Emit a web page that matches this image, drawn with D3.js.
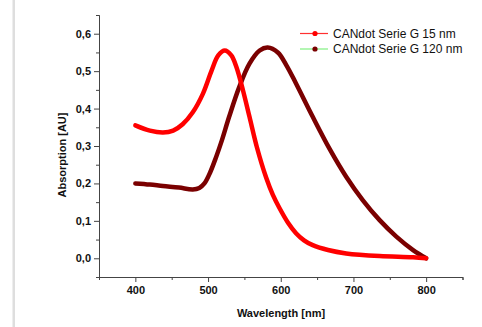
<!DOCTYPE html>
<html>
<head>
<meta charset="utf-8">
<script src="https://cdn.jsdelivr.net/npm/d3@7"></script>
<style>
  body { margin: 0; background: #fff; }
  text { font-family: Arial, "Liberation Sans", sans-serif; }
</style>
</head>
<body>
<svg id="chart"></svg>
<script>
// spectra
var wl15  = [400, 420, 438, 452, 465, 479, 493, 505, 514, 523, 532, 539, 548, 557, 567, 580, 589, 598, 610, 621, 632, 644, 665, 690, 736, 782, 800];
var abs15 = [0.355, 0.341, 0.336, 0.341, 0.358, 0.39, 0.44, 0.502, 0.542, 0.555, 0.542, 0.511, 0.449, 0.378, 0.298, 0.215, 0.17, 0.135, 0.095, 0.067, 0.048, 0.035, 0.022, 0.013, 0.006, 0.003, 0.0];

var wl120  = [400, 420, 438, 460, 479, 488, 495, 503, 511, 519, 529, 543, 557, 571, 582, 596, 608, 621, 644, 667, 690, 713, 736, 759, 782, 800];
var abs120 = [0.2, 0.197, 0.193, 0.189, 0.184, 0.188, 0.2, 0.23, 0.27, 0.315, 0.378, 0.458, 0.52, 0.555, 0.563, 0.55, 0.515, 0.467, 0.378, 0.293, 0.218, 0.155, 0.102, 0.058, 0.022, 0.0];

var seriesNames = ["CANdot Serie G 15 nm", "CANdot Serie G 120 nm"];
var xTicks = [400, 500, 600, 700, 800];
var yTicks = [0, 0.1, 0.2, 0.3, 0.4, 0.5, 0.6];

var screen = {width: 482, height: 327};
var svg = d3.select("#chart")
    .attr("width", screen.width)
    .attr("height", screen.height);

// light gray bar at the left edge
svg.append("rect")
    .attr("x", 12.5).attr("y", 0)
    .attr("width", 2.5).attr("height", screen.height)
    .attr("fill", "#dedede");

var xScale = d3.scaleLinear().domain([350, 850]).range([99, 462.5]);
var yScale = d3.scaleLinear().domain([-0.05, 0.65]).range([277, 15]);

var comma = function(d) { return d3.format(".1f")(d).replace(".", ","); };

// axes
var xAxis = d3.axisBottom(xScale).tickValues(xTicks).tickSize(5).tickSizeOuter(0).tickPadding(4);
var xMinor = d3.axisBottom(xScale).tickValues([350, 450, 550, 650, 750, 850]).tickSize(3).tickFormat("");
var yAxis = d3.axisLeft(yScale).tickValues(yTicks).tickSize(5).tickSizeOuter(0).tickPadding(3).tickFormat(comma);
var yMinor = d3.axisLeft(yScale).tickValues([0.05, 0.15, 0.25, 0.35, 0.45, 0.55, 0.65]).tickSize(3).tickFormat("");

svg.append("g").attr("transform", "translate(0," + yScale(-0.05) + ")").call(xAxis);
svg.append("g").attr("transform", "translate(0," + yScale(-0.05) + ")").call(xMinor);
svg.append("g").attr("transform", "translate(" + xScale(350) + ",0)").call(yAxis);
svg.append("g").attr("transform", "translate(" + xScale(350) + ",0)").call(yMinor);

svg.selectAll(".domain, .tick line").attr("stroke", "#444").attr("stroke-width", 1);
svg.selectAll(".tick text")
    .attr("font-size", 11)
    .attr("font-weight", "bold")
    .attr("fill", "#111");

// titles
svg.append("text")
    .text("Wavelength [nm]")
    .attr("x", 281).attr("y", 317)
    .attr("text-anchor", "middle")
    .attr("font-size", 11).attr("font-weight", "bold").attr("fill", "#111");

svg.append("g")
    .attr("transform", "translate(66,155)")
    .append("text")
    .text("Absorption [AU]")
    .attr("transform", "rotate(-90)")
    .attr("text-anchor", "middle")
    .attr("font-size", 11).attr("font-weight", "bold").attr("fill", "#111");

// curves
var lineGenerator = d3.line()
    .x(function(d) { return xScale(d[0]); })
    .y(function(d) { return yScale(d[1]); })
    .curve(d3.curveCatmullRom.alpha(0.5));

var curves = [
    {pts: d3.zip(wl120, abs120), color: "#7a0000"},
    {pts: d3.zip(wl15, abs15), color: "#ff0000"}
];

svg.append("g").selectAll("path")
    .data(curves)
    .enter()
    .append("path")
    .attr("d", function(c) { return lineGenerator(c.pts); })
    .attr("fill", "none")
    .attr("stroke", function(c) { return c.color; })
    .attr("stroke-width", 4.5)
    .attr("stroke-linecap", "round")
    .attr("stroke-linejoin", "round");

// legend
var legendItems = [
    {name: seriesNames[0], line: "#ff3030", dot: "#ff0000"},
    {name: seriesNames[1], line: "#80f080", dot: "#7a0000"}
];
var legend = svg.append("g").selectAll("g")
    .data(legendItems)
    .enter()
    .append("g")
    .attr("transform", function(d, i) { return "translate(300," + (33.5 + i * 15.5) + ")"; });

legend.append("line")
    .attr("x1", 0).attr("x2", 28).attr("y1", 0).attr("y2", 0)
    .attr("stroke", function(d) { return d.line; })
    .attr("stroke-width", 1.2);
legend.append("circle")
    .attr("cx", 15).attr("cy", 0).attr("r", 2.6)
    .attr("fill", function(d) { return d.dot; });
legend.append("text")
    .text(function(d) { return d.name; })
    .attr("x", 33).attr("y", 4)
    .attr("font-size", 12)
    .attr("fill", "#111");
</script>
</body>
</html>
